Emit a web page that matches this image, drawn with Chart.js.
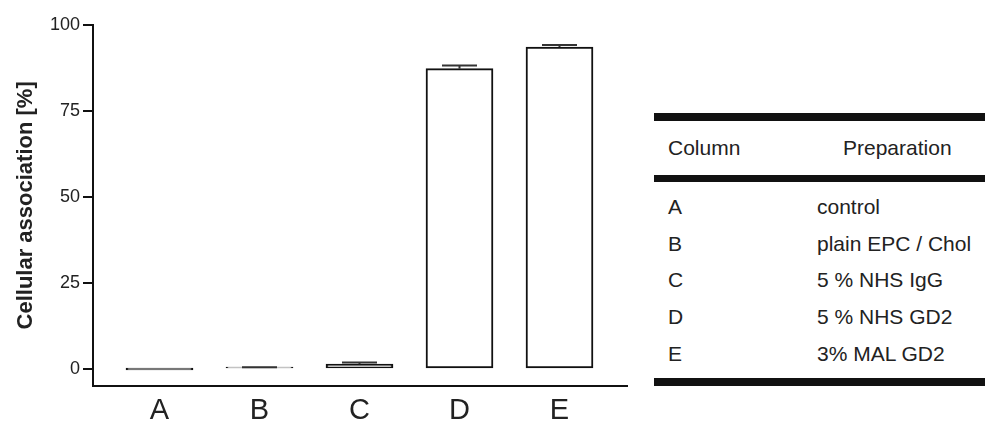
<!DOCTYPE html>
<html>
<head>
<meta charset="utf-8">
<script src="https://cdn.jsdelivr.net/npm/chart.js@4/dist/chart.umd.min.js"></script>
<style>
  html, body { margin: 0; padding: 0; background: #fff; }
  body { width: 985px; height: 424px; position: relative; overflow: hidden; font-family: 'Liberation Sans', Arial, sans-serif; color: #222; }
  #chartBox { position: absolute; left: 0; top: 0; width: 640px; height: 424px; }
  #prepTable { position: absolute; left: 654px; top: 113px; width: 331px; font-size: 21px; }
  .rule { background: #111; }
  .rule.thick { height: 8px; }
  .rule.mid { height: 7px; }
  .head { position: relative; height: 54px; }
  .head span, .row span { position: absolute; top: 50%; transform: translateY(-50%); white-space: nowrap; }
  .rows { padding: 7px 0 6px 0; }
  .row { position: relative; height: 36.6px; }
  .c1 { left: 14px; }
  .c2 { left: 163px; }
  .h2 { left: 189px; }
</style>
</head>
<body>
<div id="chartBox"><canvas id="assocChart" width="640" height="424"></canvas></div>
<div id="prepTable"></div>
<script>
'use strict'

const columns = ['A', 'B', 'C', 'D', 'E']
const association = [0, 0.3, 1.4, 87.3, 93.6]
const assocError = [0, 0.2, 0.5, 0.9, 0.6]
const preparations = ['control', 'plain EPC / Chol', '5 % NHS IgG', '5 % NHS GD2', '3% MAL GD2']
const yTicks = [0, 25, 50, 75, 100]
const tableHeader = ['Column', 'Preparation']

const FONT = "'Liberation Sans', Arial, sans-serif"
const INK = '#111'

// legend table on the right
function buildTable() {
  const el = document.getElementById('prepTable')
  let html = '<div class="rule thick"></div>'
  html += `<div class="head"><span class="c1">${tableHeader[0]}</span><span class="h2">${tableHeader[1]}</span></div>`
  html += '<div class="rule mid"></div><div class="rows">'
  columns.forEach((c, i) => {
    html += `<div class="row"><span class="c1">${c}</span><span class="c2">${preparations[i]}</span></div>`
  })
  html += '</div><div class="rule thick"></div>'
  el.innerHTML = html
}

// upper error bars, drawn through the chart's own scales
const errorBars = {
  id: 'errorBars',
  afterDatasetsDraw(chart) {
    const { ctx, scales } = chart
    const xs = scales.x
    const ys = scales.y
    ctx.save()
    ctx.strokeStyle = '#333'
    ctx.lineWidth = 2
    association.forEach((v, i) => {
      const err = assocError[i]
      if (!err) return
      const x = xs.getPixelForValue(i)
      const yBar = ys.getPixelForValue(v)
      const yTop = ys.getPixelForValue(v + err)
      ctx.beginPath()
      ctx.moveTo(x, yBar)
      ctx.lineTo(x, yTop)
      ctx.moveTo(x - 17.5, yTop)
      ctx.lineTo(x + 17.5, yTop)
      ctx.stroke()
    })
    ctx.restore()
  },
}

function buildChart() {
  const canvas = document.getElementById('assocChart')
  return new Chart(canvas, {
    type: 'bar',
    data: {
      datasets: [
        {
          data: association.map((v, i) => ({ x: i, y: v })),
          backgroundColor: '#fff',
          borderColor: INK,
          borderWidth: 2,
          borderSkipped: false,
          barThickness: 67,
          minBarLength: 2,
        },
      ],
    },
    options: {
      responsive: false,
      animation: false,
      events: [],
      layout: { padding: { top: 25, right: 13, left: 0, bottom: 0 } },
      plugins: { legend: { display: false }, tooltip: { enabled: false } },
      scales: {
        x: {
          type: 'linear',
          offset: false,
          min: -0.665,
          max: 4.675,
          grid: { display: false, drawTicks: false },
          border: { display: true, color: INK, width: 2 },
          afterBuildTicks(scale) {
            scale.ticks = columns.map((_, i) => ({ value: i }))
          },
          afterFit(scale) {
            scale.height = 38.3
          },
          ticks: {
            autoSkip: false,
            maxRotation: 0,
            padding: 8,
            color: '#222',
            font: { family: FONT, size: 29 },
            callback: (v) => columns[v] || '',
          },
        },
        y: {
          min: -4.85,
          max: 100,
          afterBuildTicks(scale) {
            scale.ticks = yTicks.map((v) => ({ value: v }))
          },
          afterFit(scale) {
            scale.width = 93
          },
          grid: {
            drawOnChartArea: false,
            drawTicks: true,
            tickLength: 10,
            color: INK,
            lineWidth: 2,
          },
          border: { display: true, color: INK, width: 2 },
          ticks: {
            padding: 3,
            color: '#222',
            font: { family: FONT, size: 18 },
          },
          title: {
            display: true,
            text: 'Cellular association [%]',
            color: '#222',
            padding: { top: 13, bottom: 0 },
            font: { family: FONT, size: 22, weight: 'bold' },
          },
        },
      },
    },
    plugins: [errorBars],
  })
}

buildTable()
buildChart()
</script>
</body>
</html>
